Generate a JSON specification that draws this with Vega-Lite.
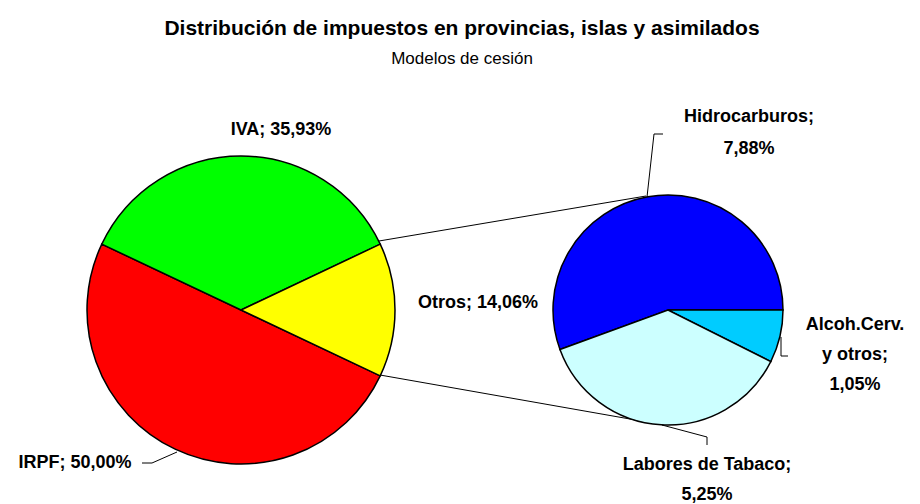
{
  "$schema": "https://vega.github.io/schema/vega-lite/v6.json",
  "width": 920,
  "height": 504,
  "padding": 0,
  "autosize": {"type": "none"},
  "background": "white",
  "title": {
    "text": "Distribución de impuestos en provincias, islas y asimilados",
    "subtitle": "Modelos de cesión",
    "anchor": "middle",
    "frame": "group",
    "offset": -67,
    "dx": 2,
    "font": "Liberation Sans Narrow, Liberation Sans",
    "fontSize": 21,
    "fontWeight": "bold",
    "color": "black",
    "subtitleFont": "Liberation Sans Narrow, Liberation Sans",
    "subtitleFontSize": 17,
    "subtitleColor": "black",
    "subtitlePadding": 12
  },
  "config": {"view": {"stroke": null}},
  "data": {
    "values": [
      {"grupo": "principal", "impuesto": "IRPF", "valor": 50.00, "etiqueta": "IRPF; 50,00%"},
      {"grupo": "principal", "impuesto": "IVA", "valor": 35.93, "etiqueta": "IVA; 35,93%"},
      {"grupo": "principal", "impuesto": "Otros", "valor": 14.06, "etiqueta": "Otros; 14,06%"},
      {"grupo": "otros", "impuesto": "Hidrocarburos", "valor": 7.88, "etiqueta": "Hidrocarburos;\n7,88%"},
      {"grupo": "otros", "impuesto": "Alcoh.Cerv. y otros", "valor": 1.05, "etiqueta": "Alcoh.Cerv.\ny otros;\n1,05%"},
      {"grupo": "otros", "impuesto": "Labores de Tabaco", "valor": 5.25, "etiqueta": "Labores de Tabaco;\n5,25%"}
    ]
  },
  "resolve": {"scale": {"theta": "independent"}},
  "layer": [
    {
      "transform": [{"filter": "datum.impuesto == 'Otros'"}],
      "mark": {"type": "rule", "color": "black", "strokeWidth": 1},
      "encoding": {
        "x": {"datum": 379, "type": "quantitative", "scale": {"domain": [0, 920], "nice": false, "zero": false}, "axis": null},
        "y": {"datum": 241, "type": "quantitative", "scale": {"domain": [0, 504], "nice": false, "zero": false, "reverse": true}, "axis": null},
        "x2": {"datum": 646},
        "y2": {"datum": 196}
      }
    },
    {
      "transform": [{"filter": "datum.impuesto == 'Otros'"}],
      "mark": {"type": "rule", "color": "black", "strokeWidth": 1},
      "encoding": {
        "x": {"datum": 380, "type": "quantitative", "scale": {"domain": [0, 920], "nice": false, "zero": false}, "axis": null},
        "y": {"datum": 375, "type": "quantitative", "scale": {"domain": [0, 504], "nice": false, "zero": false, "reverse": true}, "axis": null},
        "x2": {"datum": 664},
        "y2": {"datum": 425}
      }
    },
    {
      "transform": [{"filter": "datum.grupo == 'principal'"}],
      "mark": {"type": "arc", "outerRadius": 154, "stroke": "black", "strokeWidth": 1.5},
      "encoding": {
        "x": {"datum": 241, "type": "quantitative", "scale": {"domain": [0, 920], "nice": false, "zero": false}, "axis": null},
        "y": {"datum": 310, "type": "quantitative", "scale": {"domain": [0, 504], "nice": false, "zero": false, "reverse": true}, "axis": null},
        "theta": {"field": "valor", "type": "quantitative", "stack": true, "scale": {"range": [2.0125, 8.2957]}},
        "order": {"field": "impuesto", "sort": "ascending"},
        "color": {
          "field": "impuesto", "type": "nominal", "legend": null,
          "scale": {
            "domain": ["IRPF", "IVA", "Otros", "Hidrocarburos", "Alcoh.Cerv. y otros", "Labores de Tabaco"],
            "range": ["#FF0000", "#00FF00", "#FFFF00", "#0000FF", "#00CCFF", "#CCFFFF"]
          }
        }
      }
    },
    {
      "transform": [{"filter": "datum.grupo == 'otros'"}],
      "mark": {"type": "arc", "outerRadius": 115, "stroke": "black", "strokeWidth": 1.5},
      "encoding": {
        "x": {"datum": 668, "type": "quantitative", "scale": {"domain": [0, 920], "nice": false, "zero": false}, "axis": null},
        "y": {"datum": 310, "type": "quantitative", "scale": {"domain": [0, 504], "nice": false, "zero": false, "reverse": true}, "axis": null},
        "theta": {"field": "valor", "type": "quantitative", "stack": true, "scale": {"range": [2.0361, 8.3193]}},
        "order": {"field": "impuesto", "sort": "descending"},
        "color": {
          "field": "impuesto", "type": "nominal", "legend": null,
          "scale": {
            "domain": ["IRPF", "IVA", "Otros", "Hidrocarburos", "Alcoh.Cerv. y otros", "Labores de Tabaco"],
            "range": ["#FF0000", "#00FF00", "#FFFF00", "#0000FF", "#00CCFF", "#CCFFFF"]
          }
        }
      }
    },
    {
      "transform": [{"filter": "datum.impuesto == 'IRPF'"}],
      "mark": {"type": "rule", "color": "black", "strokeWidth": 1},
      "encoding": {
        "x": {"datum": 142, "type": "quantitative", "scale": {"domain": [0, 920], "nice": false, "zero": false}, "axis": null},
        "y": {"datum": 463, "type": "quantitative", "scale": {"domain": [0, 504], "nice": false, "zero": false, "reverse": true}, "axis": null},
        "x2": {"datum": 152},
        "y2": {"datum": 463}
      }
    },
    {
      "transform": [{"filter": "datum.impuesto == 'IRPF'"}],
      "mark": {"type": "rule", "color": "black", "strokeWidth": 1},
      "encoding": {
        "x": {"datum": 152, "type": "quantitative", "scale": {"domain": [0, 920], "nice": false, "zero": false}, "axis": null},
        "y": {"datum": 463, "type": "quantitative", "scale": {"domain": [0, 504], "nice": false, "zero": false, "reverse": true}, "axis": null},
        "x2": {"datum": 177},
        "y2": {"datum": 452}
      }
    },
    {
      "transform": [{"filter": "datum.impuesto == 'Hidrocarburos'"}],
      "mark": {"type": "rule", "color": "black", "strokeWidth": 1},
      "encoding": {
        "x": {"datum": 654, "type": "quantitative", "scale": {"domain": [0, 920], "nice": false, "zero": false}, "axis": null},
        "y": {"datum": 134, "type": "quantitative", "scale": {"domain": [0, 504], "nice": false, "zero": false, "reverse": true}, "axis": null},
        "x2": {"datum": 663},
        "y2": {"datum": 134}
      }
    },
    {
      "transform": [{"filter": "datum.impuesto == 'Hidrocarburos'"}],
      "mark": {"type": "rule", "color": "black", "strokeWidth": 1},
      "encoding": {
        "x": {"datum": 654, "type": "quantitative", "scale": {"domain": [0, 920], "nice": false, "zero": false}, "axis": null},
        "y": {"datum": 134, "type": "quantitative", "scale": {"domain": [0, 504], "nice": false, "zero": false, "reverse": true}, "axis": null},
        "x2": {"datum": 647},
        "y2": {"datum": 197}
      }
    },
    {
      "transform": [{"filter": "datum.impuesto == 'Alcoh.Cerv. y otros'"}],
      "mark": {"type": "rule", "color": "black", "strokeWidth": 1},
      "encoding": {
        "x": {"datum": 781, "type": "quantitative", "scale": {"domain": [0, 920], "nice": false, "zero": false}, "axis": null},
        "y": {"datum": 337, "type": "quantitative", "scale": {"domain": [0, 504], "nice": false, "zero": false, "reverse": true}, "axis": null},
        "x2": {"datum": 781},
        "y2": {"datum": 356}
      }
    },
    {
      "transform": [{"filter": "datum.impuesto == 'Alcoh.Cerv. y otros'"}],
      "mark": {"type": "rule", "color": "black", "strokeWidth": 1},
      "encoding": {
        "x": {"datum": 781, "type": "quantitative", "scale": {"domain": [0, 920], "nice": false, "zero": false}, "axis": null},
        "y": {"datum": 356, "type": "quantitative", "scale": {"domain": [0, 504], "nice": false, "zero": false, "reverse": true}, "axis": null},
        "x2": {"datum": 788},
        "y2": {"datum": 356}
      }
    },
    {
      "transform": [{"filter": "datum.impuesto == 'Labores de Tabaco'"}],
      "mark": {"type": "rule", "color": "black", "strokeWidth": 1},
      "encoding": {
        "x": {"datum": 707, "type": "quantitative", "scale": {"domain": [0, 920], "nice": false, "zero": false}, "axis": null},
        "y": {"datum": 437, "type": "quantitative", "scale": {"domain": [0, 504], "nice": false, "zero": false, "reverse": true}, "axis": null},
        "x2": {"datum": 707},
        "y2": {"datum": 445}
      }
    },
    {
      "transform": [{"filter": "datum.impuesto == 'Labores de Tabaco'"}],
      "mark": {"type": "rule", "color": "black", "strokeWidth": 1},
      "encoding": {
        "x": {"datum": 707, "type": "quantitative", "scale": {"domain": [0, 920], "nice": false, "zero": false}, "axis": null},
        "y": {"datum": 437, "type": "quantitative", "scale": {"domain": [0, 504], "nice": false, "zero": false, "reverse": true}, "axis": null},
        "x2": {"datum": 662},
        "y2": {"datum": 425}
      }
    },
    {
      "transform": [{"filter": "datum.impuesto == 'IRPF'"}],
      "mark": {"type": "text", "font": "Liberation Sans", "fontSize": 18, "fontWeight": "bold", "color": "black", "align": "center", "baseline": "middle"},
      "encoding": {
        "x": {"datum": 75, "type": "quantitative", "scale": {"domain": [0, 920], "nice": false, "zero": false}, "axis": null},
        "y": {"datum": 463, "type": "quantitative", "scale": {"domain": [0, 504], "nice": false, "zero": false, "reverse": true}, "axis": null},
        "text": {"field": "etiqueta"}
      }
    },
    {
      "transform": [{"filter": "datum.impuesto == 'IVA'"}],
      "mark": {"type": "text", "font": "Liberation Sans", "fontSize": 18, "fontWeight": "bold", "color": "black", "align": "center", "baseline": "middle"},
      "encoding": {
        "x": {"datum": 281, "type": "quantitative", "scale": {"domain": [0, 920], "nice": false, "zero": false}, "axis": null},
        "y": {"datum": 130, "type": "quantitative", "scale": {"domain": [0, 504], "nice": false, "zero": false, "reverse": true}, "axis": null},
        "text": {"field": "etiqueta"}
      }
    },
    {
      "transform": [{"filter": "datum.impuesto == 'Otros'"}],
      "mark": {"type": "text", "font": "Liberation Sans", "fontSize": 18, "fontWeight": "bold", "color": "black", "align": "center", "baseline": "middle"},
      "encoding": {
        "x": {"datum": 478, "type": "quantitative", "scale": {"domain": [0, 920], "nice": false, "zero": false}, "axis": null},
        "y": {"datum": 303, "type": "quantitative", "scale": {"domain": [0, 504], "nice": false, "zero": false, "reverse": true}, "axis": null},
        "text": {"field": "etiqueta"}
      }
    },
    {
      "transform": [{"filter": "datum.impuesto == 'Hidrocarburos'"}],
      "mark": {"type": "text", "font": "Liberation Sans", "fontSize": 18, "fontWeight": "bold", "color": "black", "align": "center", "baseline": "middle", "lineBreak": "\n", "lineHeight": 32},
      "encoding": {
        "x": {"datum": 749, "type": "quantitative", "scale": {"domain": [0, 920], "nice": false, "zero": false}, "axis": null},
        "y": {"datum": 117, "type": "quantitative", "scale": {"domain": [0, 504], "nice": false, "zero": false, "reverse": true}, "axis": null},
        "text": {"field": "etiqueta"}
      }
    },
    {
      "transform": [{"filter": "datum.impuesto == 'Alcoh.Cerv. y otros'"}],
      "mark": {"type": "text", "font": "Liberation Sans", "fontSize": 18, "fontWeight": "bold", "color": "black", "align": "center", "baseline": "middle", "lineBreak": "\n", "lineHeight": 30},
      "encoding": {
        "x": {"datum": 855, "type": "quantitative", "scale": {"domain": [0, 920], "nice": false, "zero": false}, "axis": null},
        "y": {"datum": 325, "type": "quantitative", "scale": {"domain": [0, 504], "nice": false, "zero": false, "reverse": true}, "axis": null},
        "text": {"field": "etiqueta"}
      }
    },
    {
      "transform": [{"filter": "datum.impuesto == 'Labores de Tabaco'"}],
      "mark": {"type": "text", "font": "Liberation Sans", "fontSize": 18, "fontWeight": "bold", "color": "black", "align": "center", "baseline": "middle", "lineBreak": "\n", "lineHeight": 30},
      "encoding": {
        "x": {"datum": 707, "type": "quantitative", "scale": {"domain": [0, 920], "nice": false, "zero": false}, "axis": null},
        "y": {"datum": 465, "type": "quantitative", "scale": {"domain": [0, 504], "nice": false, "zero": false, "reverse": true}, "axis": null},
        "text": {"field": "etiqueta"}
      }
    }
  ]
}
